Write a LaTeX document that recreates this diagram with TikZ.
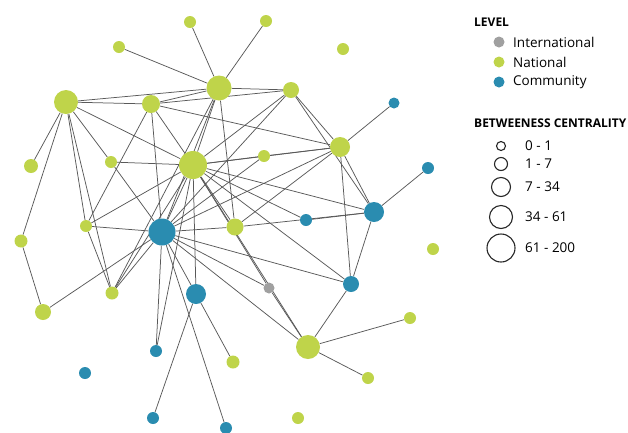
\documentclass[tikz,border=0pt]{standalone}
\usepackage{fontspec}
\setmainfont{Open Sans}
\usetikzlibrary{backgrounds}
\definecolor{natgreen}{RGB}{191,212,74}
\definecolor{comblue}{RGB}{42,140,176}
\definecolor{intgray}{RGB}{160,160,160}
\newcommand\lgdfont{\fontsize{13.5}{15}\selectfont}
\newcommand\hdfont{\bfseries\fontsize{12}{14}\selectfont}

\begin{document}
\begin{tikzpicture}[x=1pt, y=-1pt,
        dot/.style={circle, inner sep=0pt, minimum size=#1},
        nat/.style={fill=natgreen},
        com/.style={fill=comblue},
        int/.style={fill=intgray},
        link/.style={draw=black!65, line width=0.75pt},
        ring/.style={circle, inner sep=0pt, draw=black!85, line width=1.1pt, minimum size=#1}]
                \useasboundingbox (0,0) rectangle (628,432);

                \foreach \nm/\x/\y/\clr/\sz in {a/190/22/nat/12, b/266/21/nat/12, c/119/47/nat/12, d/343/49/nat/12,
                    e/219/88/nat/25, f/66/102/nat/24, g/151/104/nat/18, h/291/90/nat/16, i/394/103/com/11,
                    j/340/147/nat/20, k/111/162/nat/12, l/193/165/nat/28, m/264/156/nat/12, n/31/166/nat/14,
                    o/428/168/com/12, p/374/212/com/20, q/86/226/nat/12, r/162/232/com/27, s/235/227/nat/17,
                    t/306/220/com/12, u/21/241/nat/13, v/433/249/nat/12, w/269/288/int/11, x/351/284/com/16,
                    y/112/293/nat/13, z/196/294/com/20, aa/43/312/nat/16, bb/410/318/nat/12, cc/308/347/nat/24,
                    dd/156/351/com/12, ee/233/362/nat/13, ff/85/373/com/12, gg/368/378/nat/12, hh/153/418/com/12,
                    ii/298/418/nat/12, jj/226/428/com/12}
                    \node[dot=\sz, \clr] (\nm) at (\x,\y) {};

                \begin{scope}[on background layer]
                    \foreach \u/\v in {a/e, b/e, c/e, e/f, e/g, e/h, e/l, e/r, e/y, e/s,
                        f/n, f/u, f/q, f/y, f/k, f/g, f/l, g/h, g/l, g/q, g/r, g/j,
                        k/l, k/r, q/y, q/r, q/l, u/aa, y/r, y/l, aa/r,
                        l/h, l/j, l/m, l/p, l/x, l/t, l/w, l/cc, l/z, l/s, l/r, l/dd,
                        r/m, r/h, r/j, r/s, r/x, r/w, r/cc, r/z, r/dd, r/jj,
                        h/j, h/p, j/i, j/m, j/p, j/x, j/s, p/o, p/t, p/x, p/s,
                        x/cc, w/cc, cc/bb, cc/gg, z/hh, z/ee}
                        \draw[link] (\u) -- (\v);
                \end{scope}

                % legend
                \node[anchor=west, inner sep=0pt, font=\hdfont] (lvl) at (474,22) {LEVEL};
                \foreach \clr/\txt [count=\i] in {int/International, nat/National, com/Community}{
                    \node[dot=11, \clr] (lk\i) at (499,22+20*\i) {};
                    \node[anchor=west, inner sep=0pt, font=\lgdfont] (lt\i) at (513,22+20*\i) {\txt};
                }
                \node[anchor=west, inner sep=0pt, font=\hdfont] (bc) at (474,123) {BETWEENESS CENTRALITY};
                \foreach \sz/\yy/\txt [count=\i] in {9/146/0 - 1, 13/164/1 - 7, 19/187/7 - 34, 23/217/34 - 61, 28/248/61 - 200}{
                    \node[ring=\sz] (bk\i) at (501,\yy) {};
                    \node[anchor=west, inner sep=0pt, font=\lgdfont] (bt\i) at (525,\yy) {\txt};
                }
            \end{tikzpicture}
\end{document}
